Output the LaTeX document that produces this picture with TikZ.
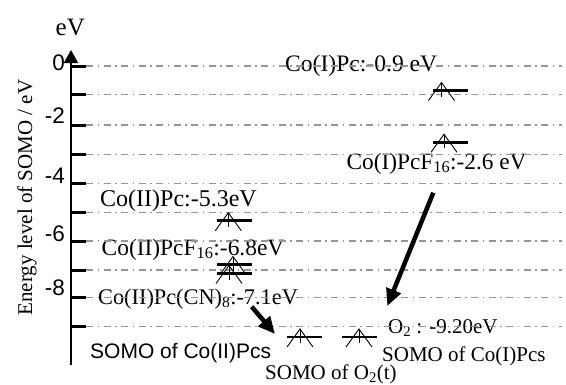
\documentclass[tikz,border=0pt]{standalone}
\usepackage{fontspec}
\setmainfont{Liberation Serif}
\setsansfont{Liberation Sans}
\usetikzlibrary{arrows.meta}
\definecolor{gridgray}{RGB}{150,150,150}
\newcommand{\fs}[1]{\fontsize{#1}{#1}\selectfont}
% one SOMO level: bar start x, level y, x of the spin arrow
\newcommand{\somolevel}[3]{%
  \draw[levelbar] (#1,#2) -- ++(35,0);
  \draw[spin] (#3,#2) ++(-13,10) -- ++(13,-18) -- ++(13,18);
  \draw[spin] (#3,#2) ++(0,-8) -- ++(0,14);
}
\tikzset{
  gridline/.style={gridgray, line width=1.5pt, dash pattern=on 7pt off 4.5pt on 1.5pt off 4.5pt},
  tickmark/.style={line width=3pt},
  levelbar/.style={line width=2.6pt},
  spin/.style={line width=0.9pt},
  lbl/.style={anchor=base west, inner sep=0pt},
  num/.style={anchor=base east, inner sep=0pt, font=\sffamily\fs{22.5}},
  fat arrow/.style={line width=4.5pt, -{Triangle[length=17pt,width=15pt]}},
}
\begin{document}
\begin{tikzpicture}[x=1pt, y=-1pt]
\useasboundingbox[fill=white] (0,0) rectangle (566,384);

% labels of the levels
\node[lbl, font=\fs{23.6}] (l1) at (285,71.5) {Co(I)Pc:-0.9 eV};
\node[lbl, font=\fs{23.3}] (l2) at (346.5,169) {Co(I)PcF\textsubscript{16}:-2.6 eV};
\node[lbl, font=\fs{24}] (l3) at (100,206) {Co(II)Pc:-5.3eV};
\node[lbl, font=\fs{23.4}] (l4) at (101.5,255) {Co(II)PcF\textsubscript{16}:-6.8eV};
\node[lbl, font=\fs{22.3}] (l5) at (98,304) {Co(II)Pc(CN)\textsubscript{8}:-7.1eV};
\node[lbl, font=\fs{21}] (l6) at (388,333) {O\textsubscript{2} : -9.20eV};
\node[lbl, font=\fs{21}] (l7) at (382,361.5) {SOMO of Co(I)Pcs};
\node[lbl, font=\fs{21}] (l8) at (265,379) {SOMO of O\textsubscript{2}(t)};
\node[lbl, font=\sffamily\fs{21}] (l9) at (90,358) {SOMO of Co(II)Pcs};

% axis title and unit
\node[lbl, font=\fs{25}] (unit) at (55.5,35) {eV};
\node[anchor=base, inner sep=0pt, rotate=90, font=\fs{21}] (ytitle) at (32,197.5) {Energy level of SOMO / eV};

% tick numbers
\node[num] (n0) at (65,70) {0};
\node[num] (n2) at (65,123) {-2};
\node[num] (n4) at (65,183) {-4};
\node[num] (n6) at (65,241) {-6};
\node[num] (n8) at (65,295) {-8};

% ticks and dash-dot guide lines
\foreach \yy in {66,94.3,125,154.3,183.3,212.3,241,270,297.7,326.7} {
  \draw[gridline] (86,\yy) -- (562,\yy);
  \draw[tickmark] (71,\yy) -- (86,\yy);
}

% vertical energy axis
\coordinate (ybot) at (71,365);
\coordinate (ytop) at (71,50);
\draw[line width=2pt, -{Triangle[length=13pt,width=14pt]}] (ybot) -- (ytop);

% SOMO levels
\somolevel{433}{90.5}{441.5}
\somolevel{433}{142.3}{444}
\somolevel{216.7}{220.7}{228.3}
\somolevel{216.7}{264.5}{233}
\somolevel{216.7}{273.5}{229}
\somolevel{287}{337}{300}
\somolevel{342}{337}{359}

% electron transfer arrows
\coordinate (a1s) at (251.7,306.7);
\coordinate (a1e) at (275,334);
\coordinate (a2s) at (433.3,192.7);
\coordinate (a2e) at (387.3,306);
\draw[fat arrow] (a1s) -- (a1e);
\draw[fat arrow] (a2s) -- (a2e);
\end{tikzpicture}
\end{document}
